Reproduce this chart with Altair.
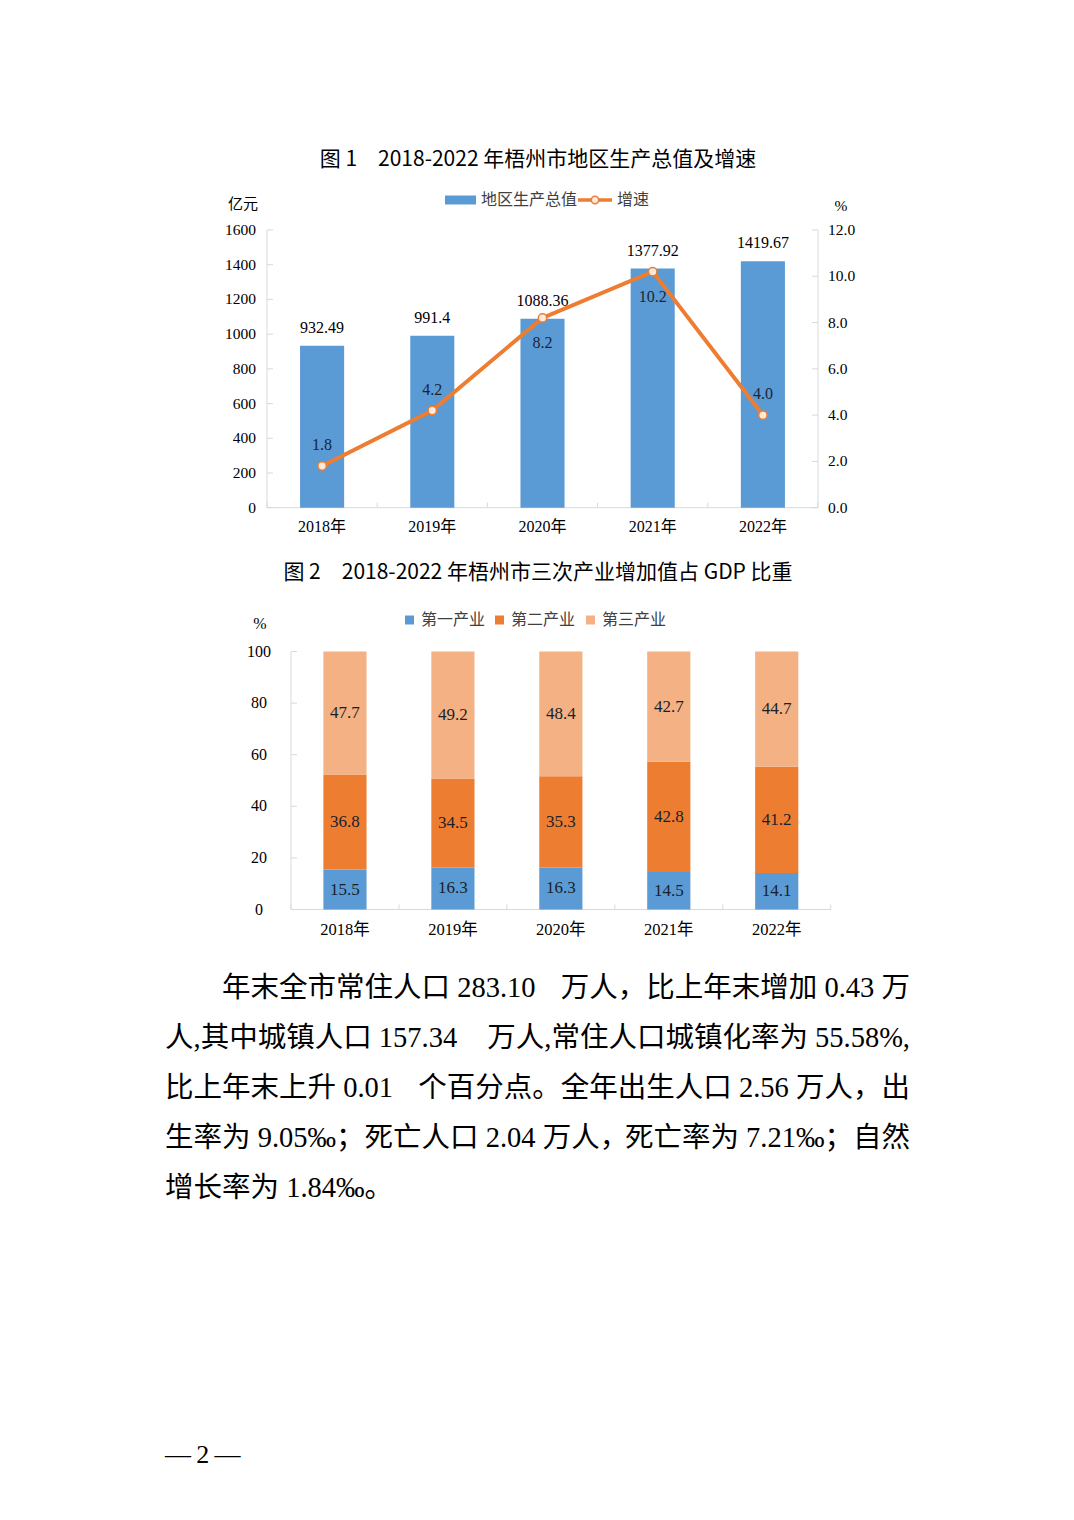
import altair as alt
import pandas as pd

# ---------------- data ----------------
years = ["2018年", "2019年", "2020年", "2021年", "2022年"]
gdp = [932.49, 991.4, 1088.36, 1377.92, 1419.67]
growth = [1.8, 4.2, 8.2, 10.2, 4.0]
growth_label_side = ["above", "above", "below", "below", "above"]
gdp_ticks = [0, 200, 400, 600, 800, 1000, 1200, 1400, 1600]
growth_ticks = [0, 2, 4, 6, 8, 10, 12]

industries = ["第一产业", "第二产业", "第三产业"]
primary = [15.5, 16.3, 16.3, 14.5, 14.1]
secondary = [36.8, 34.5, 35.3, 42.8, 41.2]
tertiary = [47.7, 49.2, 48.4, 42.7, 44.7]
share_ticks = [0, 20, 40, 60, 80, 100]
cat_bounds = [0, 1, 2, 3, 4, 5]

title1 = "图 1\u30002018-2022 年梧州市地区生产总值及增速"
title2 = "图 2\u30002018-2022 年梧州市三次产业增加值占 GDP 比重"
legend1 = ["地区生产总值", "增速"]
unit1_left = "亿元"
unit1_right = "%"
unit2 = "%"

para_left = [
    "年末全市常住人口 283.10",
    "人,其中城镇人口 157.34",
    "比上年末上升 0.01",
    "生率为 9.05‰；死亡人口 2.04 万人，",
    "增长率为 1.84‰。",
]
para_right = [
    "万人，比上年末增加 0.43 万",
    "万人,常住人口城镇化率为 55.58%,",
    "个百分点。全年出生人口 2.56 万人，出",
    "死亡率为 7.21‰；自然",
    "",
]
page_no = "—\u20092\u2009—"

# ---------------- styles ----------------
BLUE = "#5B9BD5"
ORANGE = "#ED7D31"
SALMON = "#F4B183"
AXIS = "#D9D9D9"
SERIF = "Liberation Serif, 'Noto Sans CJK SC', serif"
HEI = "'Noto Sans CJK SC', sans-serif"


def px(v):
    return v - 8


one = pd.DataFrame({"k": [0]})


def txt(s, x, y, size, align="center", font=SERIF, color="#000000", weight="normal"):
    return alt.Chart(one).mark_text(
        text=s, align=align, baseline="middle", fontSize=size, font=font,
        color=color, fontWeight=weight
    ).encode(x=alt.value(px(x)), y=alt.value(px(y)))


def hrule(x1, x2, y, color=AXIS, width=1):
    return alt.Chart(one).mark_rule(color=color, strokeWidth=width).encode(
        x=alt.value(px(x1)), x2=alt.value(px(x2)), y=alt.value(px(y)))


def vrule(x, y1, y2, color=AXIS, width=1):
    return alt.Chart(one).mark_rule(color=color, strokeWidth=width).encode(
        x=alt.value(px(x)), y=alt.value(px(y1)), y2=alt.value(px(y2)))


layers = []

# ================= Chart 1 =================
L1, R1, B1, T1 = 267, 818, 507.7, 230
x1 = alt.Scale(domain=years, range=[px(L1), px(R1)], paddingInner=0.6, paddingOuter=0.3)
xq1 = alt.Scale(domain=[0, 5], range=[px(L1), px(R1)], nice=False, zero=False)
y1 = alt.Scale(domain=[0, 1600], range=[px(B1), px(T1)], nice=False)
y1r = alt.Scale(domain=[0, 12], range=[px(B1), px(T1)], nice=False)

df1 = pd.DataFrame({
    "year": years, "gdp": gdp, "growth": growth,
    "side": growth_label_side,
    "gdp_label": [f"{v:g}" for v in gdp],
})

layers.append(txt(title1, 538, 160, 21, font=HEI))

# axes frame
layers.append(vrule(L1, T1, B1))
layers.append(vrule(R1, T1, B1))
layers.append(hrule(L1, R1, B1))
ticks_l = pd.DataFrame({"t": gdp_ticks})
ticks_r = pd.DataFrame({"t": growth_ticks})
layers.append(alt.Chart(ticks_l).mark_rule(color=AXIS).encode(
    y=alt.Y("t:Q", scale=y1, axis=None), x=alt.value(px(L1)), x2=alt.value(px(L1 + 6))))
layers.append(alt.Chart(ticks_r).mark_rule(color=AXIS).encode(
    y=alt.Y("t:Q", scale=y1r, axis=None), x=alt.value(px(R1 - 6)), x2=alt.value(px(R1))))
layers.append(alt.Chart(pd.DataFrame({"b": cat_bounds})).mark_rule(color=AXIS).encode(
    x=alt.X("b:Q", scale=xq1, axis=None), y=alt.value(px(B1 - 5)), y2=alt.value(px(B1))))
layers.append(alt.Chart(ticks_l).mark_text(
    align="right", baseline="middle", fontSize=15.5, font=SERIF, color="#000000").encode(
    y=alt.Y("t:Q", scale=y1, axis=None), x=alt.value(px(256)), text=alt.Text("t:Q", format="d")))
layers.append(alt.Chart(ticks_r).mark_text(
    align="left", baseline="middle", fontSize=15.5, font=SERIF, color="#000000").encode(
    y=alt.Y("t:Q", scale=y1r, axis=None), x=alt.value(px(828)), text=alt.Text("t:Q", format=".1f")))
layers.append(txt(unit1_left, 243, 204, 15))
layers.append(txt(unit1_right, 841, 206, 15.5))

# bars
layers.append(alt.Chart(df1).mark_bar(color=BLUE).encode(
    x=alt.X("year:N", scale=x1, axis=None),
    y=alt.Y("gdp:Q", scale=y1, axis=None),
    y2=alt.datum(0)))
layers.append(alt.Chart(df1).mark_text(
    dy=-18, baseline="middle", fontSize=16, font=SERIF, color="#000000").encode(
    x=alt.X("year:N", scale=x1, axis=None),
    y=alt.Y("gdp:Q", scale=y1, axis=None),
    text="gdp_label:N"))
# x labels
layers.append(alt.Chart(df1).mark_text(
    baseline="middle", fontSize=16, font=SERIF, color="#000000").encode(
    x=alt.X("year:N", scale=x1, axis=None), y=alt.value(px(527)), text="year:N"))

# growth line
layers.append(alt.Chart(df1).mark_line(color=ORANGE, strokeWidth=4).encode(
    x=alt.X("year:N", scale=x1, axis=None),
    y=alt.Y("growth:Q", scale=y1r, axis=None)))
layers.append(alt.Chart(df1).mark_point(
    shape="circle", size=70, filled=True, fill="#FDEADF", stroke=ORANGE,
    strokeWidth=1.5, opacity=1).encode(
    x=alt.X("year:N", scale=x1, axis=None),
    y=alt.Y("growth:Q", scale=y1r, axis=None)))
for side, dy in (("above", -21), ("below", 25)):
    layers.append(alt.Chart(df1).transform_filter(
        alt.datum.side == side).mark_text(
        dy=dy, baseline="middle", fontSize=16, font=SERIF, color="#1A2533").encode(
        x=alt.X("year:N", scale=x1, axis=None),
        y=alt.Y("growth:Q", scale=y1r, axis=None),
        text=alt.Text("growth:Q", format=".1f")))

# legend 1
layers.append(alt.Chart(one).mark_rect(color=BLUE).encode(
    x=alt.value(px(445)), x2=alt.value(px(476)), y=alt.value(px(195.5)), y2=alt.value(px(204.5))))
layers.append(txt(legend1[0], 481, 200, 16, align="left", color="#404040"))
layers.append(hrule(578, 612, 200, color=ORANGE, width=3.5))
layers.append(alt.Chart(one).mark_point(
    shape="circle", size=55, filled=True, fill="#FDEADF", stroke=ORANGE,
    strokeWidth=1.5, opacity=1).encode(x=alt.value(px(595)), y=alt.value(px(200))))
layers.append(txt(legend1[1], 617, 200, 16, align="left", color="#404040"))

# ================= Chart 2 =================
L2, R2, B2, T2 = 291, 830.7, 909.5, 651.5
x2 = alt.Scale(domain=years, range=[px(L2), px(R2)], paddingInner=0.6, paddingOuter=0.3)
xq2 = alt.Scale(domain=[0, 5], range=[px(L2), px(R2)], nice=False, zero=False)
y2 = alt.Scale(domain=[0, 100], range=[px(B2), px(T2)], nice=False)
colors2 = [BLUE, ORANGE, SALMON]

rows = []
for i, yr in enumerate(years):
    for j, (name, series) in enumerate(zip(industries, [primary, secondary, tertiary])):
        rows.append({"year": yr, "industry": name, "idx": j, "share": series[i]})
df2 = pd.DataFrame(rows)

layers.append(txt(title2, 538, 573, 21, font=HEI))

layers.append(vrule(L2, T2, B2))
layers.append(hrule(L2, R2, B2))
ticks2 = pd.DataFrame({"t": share_ticks})
layers.append(alt.Chart(ticks2).mark_rule(color=AXIS).encode(
    y=alt.Y("t:Q", scale=y2, axis=None), x=alt.value(px(L2)), x2=alt.value(px(L2 + 6))))
layers.append(alt.Chart(pd.DataFrame({"b": cat_bounds})).mark_rule(color=AXIS).encode(
    x=alt.X("b:Q", scale=xq2, axis=None), y=alt.value(px(B2 - 5)), y2=alt.value(px(B2))))
layers.append(alt.Chart(ticks2).mark_text(
    align="center", baseline="middle", fontSize=16, font=SERIF, color="#000000").encode(
    y=alt.Y("t:Q", scale=y2, axis=None), x=alt.value(px(259)), text=alt.Text("t:Q", format="d")))
layers.append(txt(unit2, 260, 624, 16))

stacked = alt.Chart(df2).transform_stack(
    stack="share", groupby=["year"], as_=["y0", "y1"],
    sort=[alt.SortField("idx", order="ascending")]
).transform_calculate(mid="(datum.y0 + datum.y1) / 2")

layers.append(stacked.mark_bar().encode(
    x=alt.X("year:N", scale=x2, axis=None),
    y=alt.Y("y0:Q", scale=y2, axis=None),
    y2="y1:Q",
    color=alt.Color("industry:N", scale=alt.Scale(domain=industries, range=colors2), legend=None)))
layers.append(stacked.mark_text(
    baseline="middle", fontSize=17, font=SERIF, color="#1A1F2A").encode(
    x=alt.X("year:N", scale=x2, axis=None),
    y=alt.Y("mid:Q", scale=y2, axis=None),
    text=alt.Text("share:Q", format=".1f")))
layers.append(alt.Chart(df1).mark_text(
    baseline="middle", fontSize=16.5, font=SERIF, color="#000000").encode(
    x=alt.X("year:N", scale=x2, axis=None), y=alt.value(px(930)), text="year:N"))

# legend 2
for sq_x, name, col in zip([405, 495, 586], industries, colors2):
    layers.append(alt.Chart(one).mark_rect(color=col).encode(
        x=alt.value(px(sq_x)), x2=alt.value(px(sq_x + 9)),
        y=alt.value(px(615.5)), y2=alt.value(px(624.5))))
    layers.append(txt(name, sq_x + 16, 620, 16, align="left", color="#404040"))

# ================= Paragraph =================
line_y = [988, 1038, 1088, 1138, 1188]
for k, (lt, rt, yy) in enumerate(zip(para_left, para_right, line_y)):
    left_x = 222 if k == 0 else 165
    layers.append(txt(lt, left_x, yy, 28.5, align="left"))
    if rt:
        layers.append(txt(rt, 910, yy, 28.5, align="right"))

layers.append(txt(page_no, 165, 1455, 26, align="left"))

chart = alt.layer(*layers).resolve_scale(
    x="independent", y="independent", color="independent"
).properties(
    width=1058, height=1504,
    autosize=alt.AutoSizeParams(type="none"), padding=0,
    background="white",
).configure_view(stroke=None)

chart.save("out.html", embed_options={"renderer": "svg", "actions": False})
